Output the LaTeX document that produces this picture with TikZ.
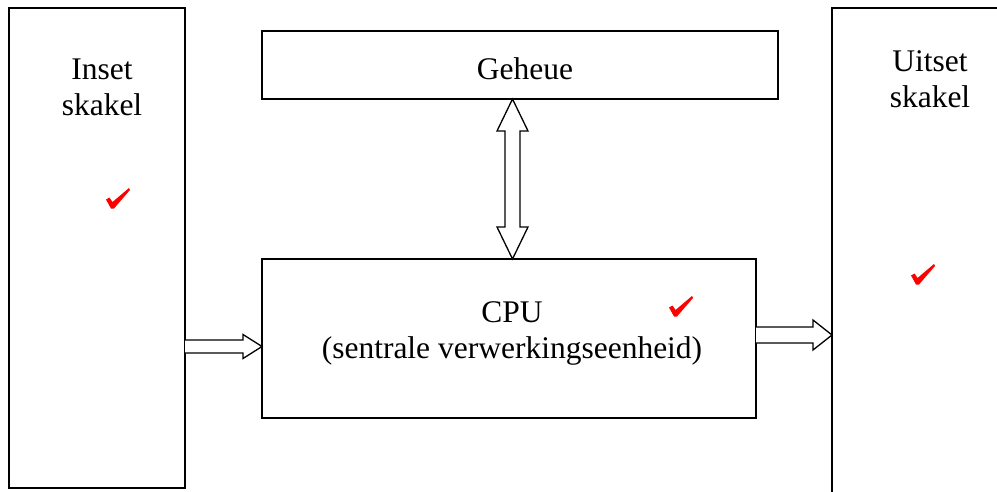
\documentclass[tikz,border=0pt]{standalone}
\usepackage{fontspec}
\setmainfont{Liberation Serif}
\usetikzlibrary{calc}
\tikzset{
  box/.style={draw=black, line width=1.5pt, inner sep=0pt, outer sep=0pt, rectangle},
  lbl/.style={inner sep=0pt, anchor=base, align=center, font=\fontsize{31.5}{36}\selectfont},
  barrow/.style={draw=black, line width=1.3pt, fill=white, line join=miter},
  pics/tick/.style={code={\fill[red] (-6,8.5) -- (-2.5,10.5) -- (0.5,6) -- (17,20) -- (18,18) -- (2,-0.5) -- (-1,-0.5) -- cycle;}}
}
\begin{document}
\begin{tikzpicture}[x=1pt,y=1pt]
\useasboundingbox (0,0) rectangle (997,-491);
\clip (0,0) rectangle (997,-491);
\fill[white] (0,0) rectangle (997,-491);
% boxes
\node[box, minimum width=176, minimum height=480] (inset) at (97,-248) {};
\node[box, minimum width=178, minimum height=502] (uitset) at (921,-259) {};
\node[box, minimum width=516, minimum height=68] (geheue) at (520,-65) {};
\node[box, minimum width=494, minimum height=159] (cpu) at (509,-338.5) {};
% labels (base anchor = baseline of last line)
\node[lbl] (tin) at (102,-115) {Inset\\skakel};
\node[lbl] (tuit) at (930,-107) {Uitset\\skakel};
\node[lbl] (tgeh) at (525,-79) {Geheue};
\node[lbl] (tcpu) at (512,-358) {CPU\\(sentrale verwerkingseenheid)};
% arrows
\coordinate (la) at (inset.east |- 0,-346.5);
\coordinate (ra) at (cpu.west |- 0,-346.5);
\draw[barrow] ($(la)+(0,6.5)$) -- ($(ra)+(-19,6.5)$) -- ($(ra)+(-19,12)$) -- (ra) -- ($(ra)+(-19,-12)$) -- ($(ra)+(-19,-6.5)$) -- ($(la)+(0,-6.5)$);
\coordinate (lb) at (cpu.east |- 0,-335);
\coordinate (rb) at (uitset.west |- 0,-335);
\draw[barrow] ($(lb)+(0,8)$) -- ($(rb)+(-19,8)$) -- ($(rb)+(-19,15)$) -- (rb) -- ($(rb)+(-19,-15)$) -- ($(rb)+(-19,-8)$) -- ($(lb)+(0,-8)$);
\coordinate (gt) at (geheue.south -| 512.5,0);
\coordinate (cb) at (cpu.north -| 512.5,0);
\draw[barrow] (gt) -- ($(gt)+(15.5,-32)$) -- ($(gt)+(7.5,-32)$) -- ($(cb)+(7.5,32)$) -- ($(cb)+(15.5,32)$) -- (cb) -- ($(cb)+(-15.5,32)$) -- ($(cb)+(-7.5,32)$) -- ($(gt)+(-7.5,-32)$) -- ($(gt)+(-15.5,-32)$) -- cycle;
% ticks
\pic (ck1) at (112,-208) {tick};
\pic (ck2) at (675,-316) {tick};
\pic (ck3) at (917,-284) {tick};
\end{tikzpicture}
\end{document}
